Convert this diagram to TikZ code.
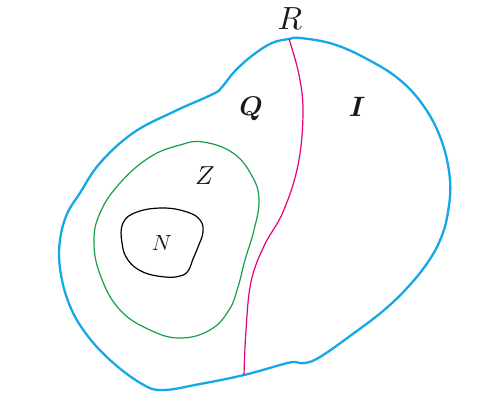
\documentclass[tikz,border=0pt]{standalone}
\usepackage{bm}
\definecolor{outerblue}{RGB}{20,168,232}
\definecolor{divpink}{RGB}{228,0,126}
\definecolor{zgreen}{RGB}{22,158,72}
\tikzset{
  outer/.style={draw=outerblue, line width=2.3pt, line join=round},
  divider/.style={draw=divpink, line width=1.2pt},
  zset/.style={draw=zgreen, line width=1.2pt},
  nset/.style={draw=black, line width=1.2pt},
  lbl/.style={inner sep=0pt, text=black!90}
}
\begin{document}
\begin{tikzpicture}[x=1pt,y=-1pt]
\useasboundingbox (0,0) rectangle (490,405);
% outer set R
\draw[outer] plot[smooth cycle, tension=0.65] coordinates {
 (289,39) (300,38) (333,44) (367,59) (400,80) (425,108) (442,142) (450,180)
 (448,212) (441,238) (428,262) (408,287) (383,311) (350,336) (320,357) (305,363)
 (293,362) (280,365) (244,375) (200,384) (163,390) (142,384) (110,360)
 (84,331) (68,301) (60,268) (60,240) (67,214) (80,193) (100,163)
 (133,133) (173,112) (213,94) (222,87) (235,71) (253,55) (272,43)};
% divider between Q and I
\coordinate (rtop) at (289,39);
\coordinate (rbot) at (244,375);
\draw[divider] plot[smooth, tension=0.65] coordinates {
 (rtop) (299,75) (303,113) (298,165) (283,212) (264,246) (251,282)
 (246,330) (rbot)};
% Z
\draw[zset] plot[smooth cycle, tension=0.7] coordinates {
 (203,142) (233,153) (252,176) (259,200) (254,230) (245,260) (238,287)
 (229,310) (210,330) (180,338) (150,330) (120,310) (101,277) (94,243)
 (100,213) (120,183) (150,157) (180,145)};
% N
\draw[nset] plot[smooth cycle, tension=0.7] coordinates {
 (163,208) (187,212) (200,220) (203,232) (198,247) (193,259) (188,271)
 (180,276) (165,277) (143,272) (128,260) (122,243) (123,223) (137,212)};
% labels
\node[lbl, scale=3.2] (R) at (290,19) {$R$};
\node[lbl, scale=2.7] (Q) at (251,109) {$\bm{Q}$};
\node[lbl, scale=2.8] (I) at (357,107) {$\bm{I}$};
\node[lbl, scale=2.6] (Z) at (205,176) {$Z$};
\node[lbl, scale=2.2] (N) at (162,243) {$N$};
\end{tikzpicture}
\end{document}
